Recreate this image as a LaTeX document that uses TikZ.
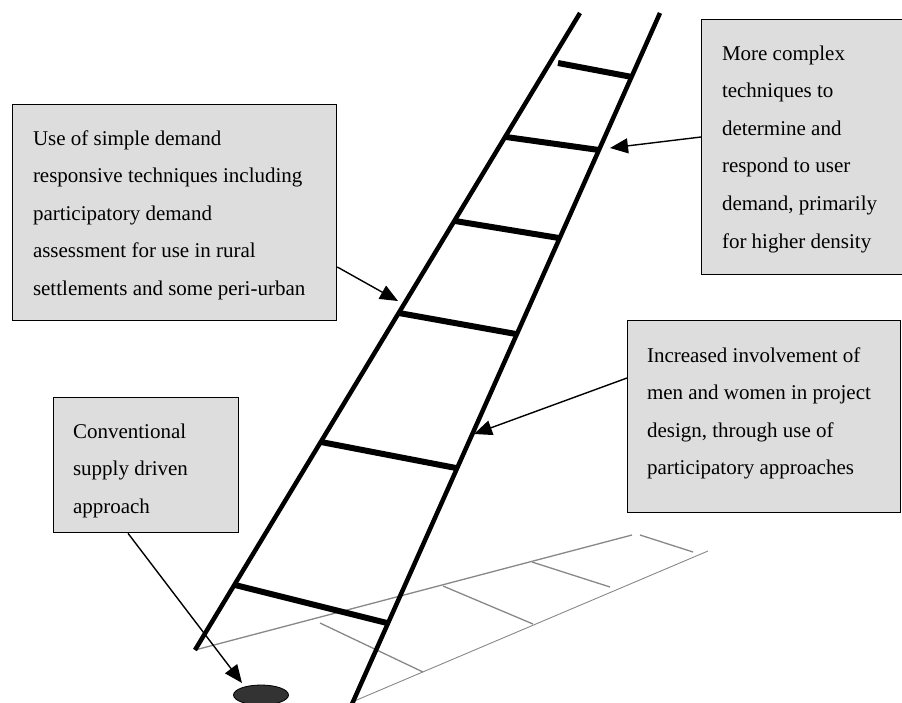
\documentclass[tikz,border=0pt]{standalone}
\usepackage{fontspec}
\setmainfont{Liberation Serif}
\usetikzlibrary{arrows.meta,calc,shapes.geometric}
\definecolor{boxfill}{RGB}{221,221,221}
\definecolor{shadowgray}{RGB}{136,136,136}
\definecolor{holefill}{RGB}{51,51,51}
\newcommand{\boxlines}[1]{\parbox[t]{300pt}{\fontsize{21}{37.6}\selectfont\raggedright #1\par}}
\begin{document}
\begin{tikzpicture}[x=1pt,y=-1pt,
  rail/.style={line width=4.5pt},
  rung/.style={line width=6pt},
  shadowline/.style={draw=shadowgray,line width=1.3pt},
  infobox/.style={draw=black,line width=1.3pt,fill=boxfill,rectangle,anchor=north west,inner sep=0pt},
  boxtext/.style={anchor=base west,inner sep=0pt,outer sep=0pt},
  pointer/.style={line width=1.4pt,-{Triangle[length=18pt,width=15pt]}}]
\useasboundingbox (0,0) rectangle (902,702);
% shadow of the ladder
\draw[shadowline] (195,650) -- (632,535);
\draw[shadowline,line width=0.9pt] (352,702) -- (708,551);
\draw[shadowline] (320,623) -- (423,672);
\draw[shadowline] (443,586) -- (533,624);
\draw[shadowline] (532,562) -- (610,587);
\draw[shadowline] (640,535) -- (693,552);
% ladder
\draw[rail] (580,13) -- (195,650);
\draw[rail] (660,13) -- (352,704);
\draw[rung] (558,63) -- (632,77);
\draw[rung] (506,137) -- (599,150);
\draw[rung] (455,221) -- (559,238);
\draw[rung] (399,313) -- (516,334);
\draw[rung] (321,442) -- (456,468);
\draw[rung] (235,585) -- (387,623);
% hole
\node[draw=black,line width=0.8pt,fill=holefill,ellipse,minimum width=55pt,minimum height=20pt,inner sep=0pt] (hole) at (261,695) {};
% boxes
\node[infobox,minimum width=210pt,minimum height=255pt] (trbox) at (701,19) {};
\node[infobox,minimum width=324pt,minimum height=216pt] (lbox) at (12,104) {};
\node[infobox,minimum width=273pt,minimum height=192pt] (rmbox) at (627,320) {};
\node[infobox,minimum width=185pt,minimum height=135pt] (llbox) at (53,397) {};
% texts
\node[boxtext] (trtext) at (722,60) {\boxlines{More complex\\techniques to\\determine and\\respond to user\\demand, primarily\\for higher density}};
\node[boxtext] (ltext) at (33,145) {\boxlines{Use of simple demand\\responsive techniques including\\participatory demand\\assessment for use in rural\\settlements and some peri-urban}};
\node[boxtext] (rmtext) at (647,362) {\boxlines{Increased involvement of\\men and women in project\\design, through use of\\participatory approaches}};
\node[boxtext] (lltext) at (73,438) {\boxlines{Conventional\\supply driven\\approach}};
% pointers
\coordinate (trtip) at (610,148);
\coordinate (ltip) at (398,301);
\coordinate (rmtip) at (474,434);
\coordinate (lltip) at (242,683);
\draw[pointer] ($(trbox.north west)+(0,118)$) -- (trtip);
\draw[pointer] ($(lbox.north east)+(0,163)$) -- (ltip);
\draw[pointer] ($(rmbox.north west)+(0,58)$) -- (rmtip);
\draw[pointer] ($(llbox.south west)+(75,0)$) -- (lltip);
\end{tikzpicture}
\end{document}
